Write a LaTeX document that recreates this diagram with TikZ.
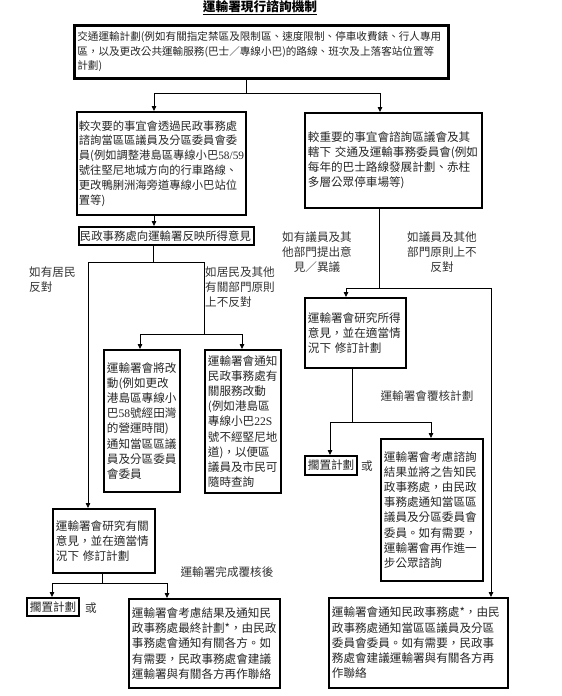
\documentclass[tikz,border=0pt]{standalone}
\usepackage{fontspec}
\setmainfont{Noto Sans CJK TC}
\newfontfamily\latin{Liberation Serif}
\usetikzlibrary{arrows.meta}

\tikzset{
  box/.style={draw, line width=1.8pt, anchor=north west, inner xsep=2pt, inner ysep=1pt,
    align=left, text=black!85, font=\fontsize{11.6}{15.2}\selectfont},
  sz/.style 2 args={minimum width=#1pt, minimum height=#2pt, text width=#1pt-6pt},
  tag/.style={inner sep=0pt, align=center, text=black!80, font=\fontsize{11.6}{15.2}\selectfont},
  link/.style={line width=0.8pt},
  arr/.style={link, -{Triangle[length=5pt,width=4.5pt]}}
}

\begin{document}
\begin{tikzpicture}[x=1pt, y=-1pt]
  \useasboundingbox (0,0) rectangle (562,696);

  % title
  \node[inner sep=0pt, font=\bfseries\fontsize{12.7}{14}\selectfont] (title) at (260,8) {\underline{運輸署現行諮詢機制}};

  % boxes
  \node[box, sz={374}{53}, line width=2.6pt, font=\fontsize{10.6}{14.3}\selectfont] (plan) at (73,24)
    {交通運輸計劃(例如有關指定禁區及限制區、速度限制、停車收費錶、行人專用\\區，以及更改公共運輸服務(巴士／專線小巴)的路線、班次及上落客站位置等\\計劃)};
  \node[box, sz={169}{103}, text width=165pt, font=\fontsize{11.3}{14.8}\selectfont] (minor) at (76,111)
    {較次要的事宜會透過民政事務處\\諮詢當區區議員及分區委員會委\\員(例如調整港島區專線小巴{\latin 58/59}\\號往堅尼地城方向的行車路線、\\更改鴨脷洲海旁道專線小巴站位\\置等)};
  \node[box, sz={177}{95}] (major) at (304,112)
    {較重要的事宜會諮詢區議會及其\\轄下 交通及運輸事務委員會(例如\\每年的巴士路線發展計劃、赤柱\\多層公眾停車場等)};
  \node[box, sz={175}{18}, text width=173pt, inner xsep=1pt, font=\fontsize{11.4}{14}\selectfont] (relay) at (78,226)
    {民政事務處向運輸署反映所得意見};
  \node[box, sz={76}{142}] (change) at (103,349)
    {運輸署會將改\\動(例如更改\\港島區專線小\\巴{\latin 58}號經田灣\\的營運時間)\\通知當區區議\\員及分區委員\\會委員};
  \node[box, sz={76}{143}] (notify) at (204,349)
    {運輸署會通知\\民政事務處有\\關服務改動\\(例如港島區\\專線小巴{\latin 22S}\\號不經堅尼地\\道)，以便區\\議員及市民可\\隨時查詢};
  \node[box, sz={102}{64}] (studyL) at (52,508)
    {運輸署會研究有關\\意見，並在適當情\\況下 修訂計劃};
  \node[box, sz={52}{18}] (shelveL) at (26,597) {擱置計劃};
  \node[box, sz={151}{89}] (finalL) at (128,598)
    {運輸署會考慮結果及通知民\\政事務處最終計劃*，由民政\\事務處會通知有關各方。如\\有需要，民政事務處會建議\\運輸署與有關各方再作聯絡};
  \node[box, sz={101}{70}] (studyR) at (304,297)
    {運輸署會研究所得\\意見，並在適當情\\況下 修訂計劃};
  \node[box, sz={52}{19}] (shelveR) at (304,455) {擱置計劃};
  \node[box, sz={102}{142}] (consult) at (380,438)
    {運輸署會考慮諮詢\\結果並將之告知民\\政事務處，由民政\\事務處通知當區區\\議員及分區委員會\\委員。如有需要，\\運輸署會再作進一\\步公眾諮詢};
  \node[box, sz={179}{90}] (finalR) at (328,597)
    {運輸署會通知民政事務處*，由民\\政事務處通知當區區議員及分區\\委員會委員。如有需要，民政事\\務處會建議運輸署與有關各方再\\作聯絡};

  % labels
  \node[tag, align=left, anchor=west] (objL) at (29,280) {如有居民\\反對};
  \node[tag, align=left, anchor=west] (noobjL) at (205,287) {如居民及其他\\有關部門原則\\上不反對};
  \node[tag] (objR) at (317,252) {如有議員及其\\他部門提出意\\見／異議};
  \node[tag] (noobjR) at (442,252) {如議員及其他\\部門原則上不\\反對};
  \node[tag] (reviewR) at (427,396) {運輸署會覆核計劃};
  \node[tag] (reviewL) at (227,572) {運輸署完成覆核後};
  \node[tag] (orR) at (367,466) {或};
  \node[tag] (orL) at (91,608) {或};

  % split under the plan
  \coordinate (s0) at (246,93);
  \coordinate (s1) at (154,93);
  \coordinate (s2) at (380,93);
  \draw[link] (s0 |- plan.south) -- (s0);
  \draw[link] (s1) -- (s2);
  \draw[arr] (s1) -- (s1 |- minor.north);
  \draw[arr] (s2) -- (s2 |- major.north);

  % left branch
  \draw[arr] (s1 |- minor.south) -- (s1 |- relay.north);
  \coordinate (r0) at (153,262);
  \coordinate (r1) at (88,262);
  \coordinate (r2) at (204,262);
  \coordinate (r3) at (204,334);
  \coordinate (r4) at (140,334);
  \coordinate (r5) at (242,334);
  \draw[link] (r0 |- relay.south) -- (r0);
  \draw[link] (r1) -- (r2) -- (r3);
  \draw[link] (r4) -- (r5);
  \draw[arr] (r1) -- (r1 |- studyL.north);
  \draw[arr] (r4) -- (r4 |- change.north);
  \draw[arr] (r5) -- (r5 |- notify.north);

  \coordinate (q0) at (102,583);
  \coordinate (q1) at (52,583);
  \coordinate (q2) at (167,583);
  \draw[link] (q0 |- studyL.south) -- (q0);
  \draw[link] (q1) -- (q2);
  \draw[arr] (q1) -- (q1 |- shelveL.north);
  \draw[arr] (q2) -- (q2 |- finalL.north);

  % right branch
  \coordinate (m0) at (379,288);
  \coordinate (m1) at (346,288);
  \coordinate (m2) at (491,288);
  \draw[link] (m0 |- major.south) -- (m0);
  \draw[link] (m1) -- (m2);
  \draw[arr] (m1) -- (m1 |- studyR.north);
  \draw[arr] (m2) -- (m2 |- finalR.north);

  \coordinate (p0) at (352,422);
  \coordinate (p1) at (330,422);
  \coordinate (p2) at (431,422);
  \draw[link] (p0 |- studyR.south) -- (p0);
  \draw[link] (p1) -- (p2);
  \draw[arr] (p1) -- (p1 |- shelveR.north);
  \draw[arr] (p2) -- (p2 |- consult.north);

\end{tikzpicture}
\end{document}
